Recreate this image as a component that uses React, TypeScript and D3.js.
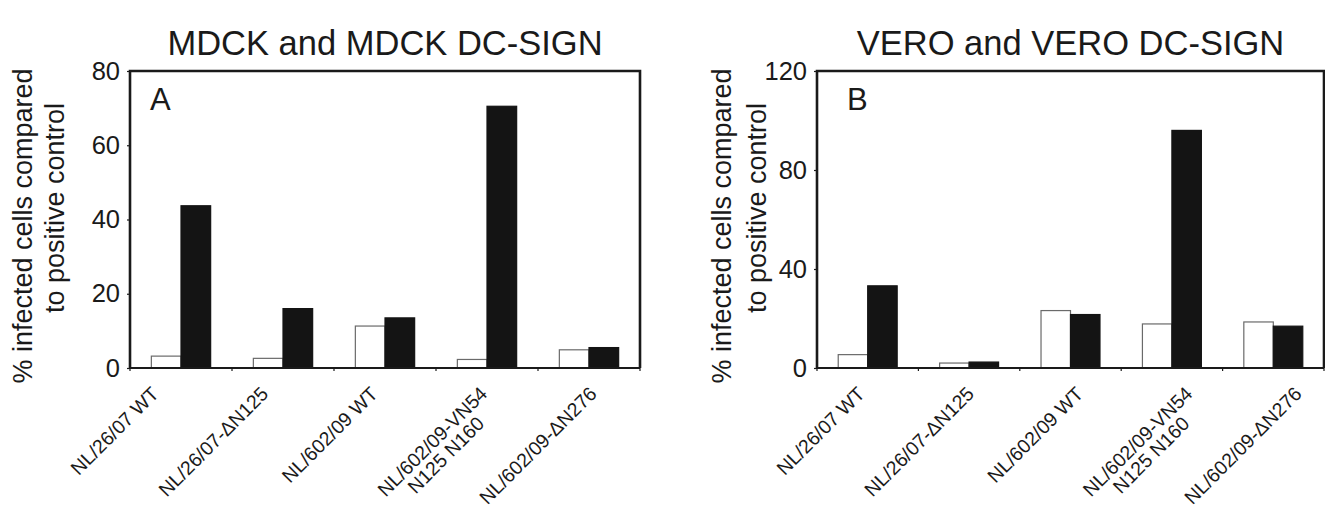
import React, { useEffect, useRef } from "react";
import * as d3 from "d3";

const categories = [
  ["NL/26/07 WT"],
  ["NL/26/07-ΔN125"],
  ["NL/602/09 WT"],
  ["NL/602/09-VN54", "N125 N160"],
  ["NL/602/09-ΔN276"],
];
const seriesKeys = ["parental", "dcsign"];

const mdckParental = [3.2, 2.6, 11.3, 2.3, 4.9];
const mdckDcSign = [43.7, 16.0, 13.5, 70.5, 5.5];
const veroParental = [5.4, 2.0, 23.2, 17.8, 18.6];
const veroDcSign = [33.2, 2.4, 21.6, 96.0, 16.9];

const mdckTicks = [0, 20, 40, 60, 80];
const veroTicks = [0, 40, 80, 120];

const FONT = "'Liberation Sans', Arial, Helvetica, sans-serif";

interface PanelSpec {
  title: string;
  letter: string;
  letterX: number;
  left: number;
  right: number;
  labelRange: [number, number];
  yMax: number;
  ticks: number[];
  parental: number[];
  dcsign: number[];
  titleX1: number;
  titleX2: number;
}

const panels: PanelSpec[] = [
  {
    title: "MDCK and MDCK DC-SIGN",
    letter: "A",
    letterX: 150,
    left: 130,
    right: 640,
    labelRange: [160, 598],
    yMax: 80,
    ticks: mdckTicks,
    parental: mdckParental,
    dcsign: mdckDcSign,
    titleX1: 32,
    titleX2: 64,
  },
  {
    title: "VERO and VERO DC-SIGN",
    letter: "B",
    letterX: 847,
    left: 817,
    right: 1324,
    labelRange: [866, 1303],
    yMax: 120,
    ticks: veroTicks,
    parental: veroParental,
    dcsign: veroDcSign,
    titleX1: 731,
    titleX2: 766,
  },
];

const TOP = 71;
const BOTTOM = 368;

export default function App() {
  const ref = useRef<SVGSVGElement>(null);

  useEffect(() => {
    const svg = d3.select(ref.current);
    svg.selectAll("*").remove();

    panels.forEach((p) => {
      const g = svg.append("g");
      const x = d3
        .scaleBand<number>()
        .domain(categories.map((_, i) => i))
        .range([p.left, p.right])
        .padding(0);
      const inner = d3
        .scaleBand<string>()
        .domain(seriesKeys)
        .range([0, x.bandwidth()])
        .paddingInner(0)
        .paddingOuter(0.72);
      const y = d3.scaleLinear().domain([0, p.yMax]).range([BOTTOM, TOP]);
      const lx = d3
        .scalePoint<number>()
        .domain(categories.map((_, i) => i))
        .range(p.labelRange);

      // title
      g.append("text")
        .attr("x", (p.left + p.right) / 2)
        .attr("y", 55)
        .attr("text-anchor", "middle")
        .attr("font-family", FONT)
        .attr("font-size", 34.5)
        .attr("fill", "#1a1a1a")
        .text(p.title);

      // bars
      categories.forEach((_, i) => {
        const vals = [p.parental[i], p.dcsign[i]];
        seriesKeys.forEach((k, j) => {
          const x0 = (x(i) as number) + (inner(k) as number);
          g.append("rect")
            .attr("x", x0)
            .attr("y", y(vals[j]))
            .attr("width", inner.bandwidth())
            .attr("height", BOTTOM - y(vals[j]))
            .attr("fill", j === 0 ? "#ffffff" : "#141414")
            .attr("stroke", j === 0 ? "#6a6a6a" : "#141414")
            .attr("stroke-width", 1.2);
        });
      });

      // frame
      g.append("path")
        .attr(
          "d",
          `M${p.left},${BOTTOM} L${p.left},${TOP} L${p.right},${TOP} L${p.right},${BOTTOM}`
        )
        .attr("fill", "none")
        .attr("stroke", "#1a1a1a")
        .attr("stroke-width", 2.6);
      g.append("line")
        .attr("x1", p.left)
        .attr("x2", p.right)
        .attr("y1", BOTTOM)
        .attr("y2", BOTTOM)
        .attr("stroke", "#1a1a1a")
        .attr("stroke-width", 2.2);

      // y axis ticks
      const yAxis = d3
        .axisLeft(y)
        .tickValues(p.ticks)
        .tickSize(3)
        .tickPadding(7)
        .tickFormat(d3.format("d"));
      const ya = g.append("g").attr("transform", `translate(${p.left},0)`).call(yAxis);
      ya.select(".domain").remove();
      ya.selectAll("line").attr("stroke", "#1a1a1a").attr("stroke-width", 1.2);
      ya.selectAll("text")
        .attr("font-family", FONT)
        .attr("font-size", 25.5)
        .attr("fill", "#1a1a1a");

      // x ticks at band boundaries
      const bounds = categories.map((_, i) => x(i) as number).concat([p.right]);
      g.selectAll(null)
        .data(bounds)
        .enter()
        .append("line")
        .attr("x1", (d) => d)
        .attr("x2", (d) => d)
        .attr("y1", BOTTOM)
        .attr("y2", BOTTOM + 3)
        .attr("stroke", "#1a1a1a")
        .attr("stroke-width", 1.2);

      // panel letter
      g.append("text")
        .attr("x", p.letterX)
        .attr("y", 110)
        .attr("font-family", FONT)
        .attr("font-size", 31)
        .attr("fill", "#1a1a1a")
        .text(p.letter);

      // y title
      const ty = [
        { text: "% infected cells compared", x: p.titleX1, y: 226 },
        { text: "to positive control", x: p.titleX2, y: 208 },
      ];
      ty.forEach((t) => {
        g.append("text")
          .attr("transform", `translate(${t.x},${t.y}) rotate(-90)`)
          .attr("text-anchor", "middle")
          .attr("font-family", FONT)
          .attr("font-size", 27)
          .attr("fill", "#1a1a1a")
          .text(t.text);
      });

      // x category labels
      const lh = 19;
      categories.forEach((lines, i) => {
        const cx = lx(i) as number;
        const lg = g
          .append("g")
          .attr("transform", `translate(${cx},395) rotate(-45)`);
        const texts = lines.map((ln, k) =>
          lg
            .append("text")
            .attr("x", 0)
            .attr("y", k * lh)
            .attr("text-anchor", "end")
            .attr("font-family", FONT)
            .attr("font-size", 19.5)
            .attr("fill", "#1a1a1a")
            .text(ln)
        );
        if (texts.length > 1) {
          const l0 = (texts[0].node() as SVGTextElement).getComputedTextLength();
          texts.forEach((t, k) => {
            if (k === 0) return;
            const lk = (t.node() as SVGTextElement).getComputedTextLength();
            t.attr("x", -(l0 - lk) / 2);
          });
        }
      });
    });
  }, []);

  return (
    <svg
      ref={ref}
      width={1325}
      height={513}
      style={{ position: "absolute", left: 0, top: 0, background: "#fff" }}
    />
  );
}
